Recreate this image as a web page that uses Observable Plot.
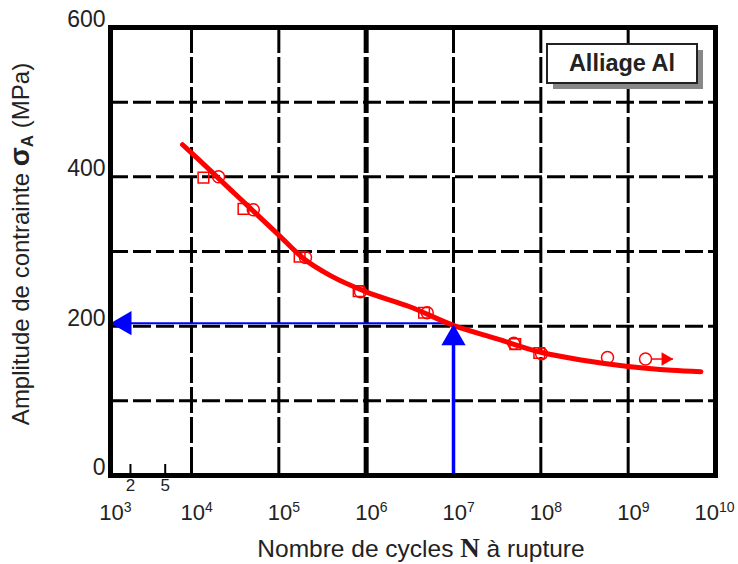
<!DOCTYPE html>
<html><head><meta charset="utf-8">
<script src="https://cdn.jsdelivr.net/npm/d3@7"></script>
<script src="https://cdn.jsdelivr.net/npm/@observablehq/plot@0.6"></script>
<style>body{margin:0;background:#fff}</style>
</head><body><div id="chart"></div>
<script>
// ---- data ----
const decadeTicks = [1e3, 1e4, 1e5, 1e6, 1e7, 1e8, 1e9, 1e10];
const gridDecades = [1e4, 1e5, 1e6, 1e7, 1e8, 1e9];
const minorTicks = [2000, 5000];
const yTickLabels = [0, 200, 400, 600];
const yGrid = [100, 200, 300, 400, 500];

// fitted Wöhler curve (N, sigma_A)
const curveN = [7900, 1e4, 3.16e4, 1e5, 1.9e5, 4e5, 1e6, 3.16e6, 1e7, 3.16e7, 1e8, 3.16e8, 1e9, 3.16e9, 6.8e9];
const curveS = [443, 432, 377, 322, 291, 267, 246, 226, 201, 183, 165, 154, 146, 141, 139];

// test points
const circleN = [2.04e4, 5.1e4, 2.02e5, 8.6e5, 5.0e6, 4.9e7, 1.02e8, 5.8e8, 1.58e9];
const circleS = [400, 356, 292, 246, 218, 177, 163, 158, 156];
const squareN = [1.37e4, 3.94e4, 1.73e5, 8.2e5, 4.6e6, 5.1e7, 9.6e7];
const squareS = [399, 357, 293, 247, 218, 176, 164];

// run-out (no failure) marker
const runoutS = 156;
const runoutN0 = 1.85e9, runoutN1 = 3.3e9;

// reading example
const targetN = 1e7, targetS = 200;

const xMin = 10 ** 3.0725, xMax = 1e10;

const curve = curveN.map((n, i) => ({n, s: curveS[i]}));
const circles = circleN.map((n, i) => ({n, s: circleS[i]}));
const squares = squareN.map((n, i) => ({n, s: squareS[i]}));

const chart = Plot.plot({
  width: 738, height: 564,
  marginLeft: 110, marginRight: 23, marginTop: 27, marginBottom: 89,
  x: {type: "log", domain: [xMin, xMax], axis: null},
  y: {domain: [0, 600], axis: null},
  style: {fontFamily: "'Liberation Sans', Arial, sans-serif", background: "white", overflow: "visible", color: "black"},
  marks: [
    Plot.ruleY(yGrid, {y: d => d, stroke: "black", strokeWidth: 3, strokeDasharray: "18,5"}),
    Plot.ruleX(gridDecades, {x: d => d, stroke: "black", strokeWidth: d => d === 1e6 ? 5 : 3, strokeDasharray: "26,4"}),
    Plot.tickX(minorTicks, {x: d => d, stroke: "black", strokeWidth: 2, insetTop: 437}),
    Plot.text(minorTicks, {x: d => d, text: d => String(d / 1000), frameAnchor: "bottom", dy: 15, fontSize: 17, fill: "#222"}),
    Plot.text(decadeTicks, {x: d => d, text: d => String(Math.round(Math.log10(d))), frameAnchor: "bottom", dy: 44, dx: -11, textAnchor: "start", fontSize: 22, fill: "#222", className: "decade-label"}),
    Plot.text(yTickLabels, {y: d => d, text: d => String(d), frameAnchor: "left", textAnchor: "end", dx: -5, dy: -8, fontSize: 23, fill: "#222"}),
    // blue reading lines
    Plot.ruleY([{s: targetS, n0: xMin, n1: targetN}], {y: "s", x1: "n0", x2: "n1", stroke: "blue", strokeWidth: 2, dy: -3}),
    Plot.ruleX([{n: targetN, s0: 0, s1: targetS}], {x: "n", y1: "s0", y2: "s1", stroke: "blue", strokeWidth: 3.5}),
    // test points
    Plot.dot(circles, {x: "n", y: "s", r: 6, stroke: "red", strokeWidth: 1.5, fill: "none"}),
    Plot.dot(squares, {x: "n", y: "s", r: 6, symbol: "square", stroke: "red", strokeWidth: 1.5, fill: "none"}),
    Plot.ruleY([{s: runoutS, n0: runoutN0, n1: runoutN1}], {y: "s", x1: "n0", x2: "n1", stroke: "red", strokeWidth: 1.5}),
    Plot.dot([{n: runoutN1, s: runoutS}], {x: "n", y: "s", symbol: "triangle", r: 5, rotate: 90, dx: -8, fill: "red"}),
    // fitted curve
    Plot.line(curve, {x: "n", y: "s", stroke: "red", strokeWidth: 5, curve: "monotone-x"}),
    // arrowheads
    Plot.dot([{n: xMin, s: targetS}], {x: "n", y: "s", symbol: "triangle", r: 9, rotate: -90, dx: 14, dy: -3, fill: "blue"}),
    Plot.dot([{n: targetN, s: targetS}], {x: "n", y: "s", symbol: "triangle", r: 9, dy: 12, fill: "blue"}),
    Plot.frame({stroke: "black", strokeWidth: 5})
  ]
});

document.getElementById("chart").appendChild(chart);
const svg = d3.select(chart);

// superscript exponents on decade labels (small hand-placed offsets as in the original)
const labelShift = {"3": 6, "10": -10};
svg.selectAll('g.decade-label text').each(function() {
  const e = this.textContent;
  this.textContent = "10";
  if (labelShift[e]) this.setAttribute("dx", labelShift[e]);
  d3.select(this).append("tspan").attr("dy", "-0.55em").attr("font-size", "14px").text(e);
});

// axis titles
const xt = svg.append("text").attr("x", 421).attr("y", 557).attr("text-anchor", "middle")
  .attr("font-size", 24.5).attr("fill", "#222");
xt.append("tspan").text("Nombre de cycles ");
xt.append("tspan").attr("font-family", "'Liberation Serif', 'Times New Roman', serif").attr("font-weight", "bold").attr("font-size", 27).text("N");
xt.append("tspan").text(" à rupture");

const yt = svg.append("text").attr("transform", "translate(29,244) rotate(-90)").attr("text-anchor", "middle")
  .attr("font-size", 24).attr("fill", "#222");
yt.append("tspan").text("Amplitude de contrainte ");
yt.append("tspan").attr("font-weight", "bold").attr("font-size", 28).text("σ");
yt.append("tspan").attr("font-weight", "bold").attr("font-size", 17).attr("dy", 4).text("A");
yt.append("tspan").attr("dy", -4).text(" (MPa)");

// legend box
const lg = svg.append("g");
lg.append("rect").attr("x", 553).attr("y", 50).attr("width", 150).attr("height", 39).attr("fill", "#888");
lg.append("rect").attr("x", 547).attr("y", 44).attr("width", 150).attr("height", 39).attr("fill", "white").attr("stroke", "#222").attr("stroke-width", 2);
lg.append("text").attr("x", 622).attr("y", 71).attr("text-anchor", "middle").attr("font-size", 23.5).attr("font-weight", "bold").attr("fill", "#222").text("Alliage Al");
</script>
</body></html>
